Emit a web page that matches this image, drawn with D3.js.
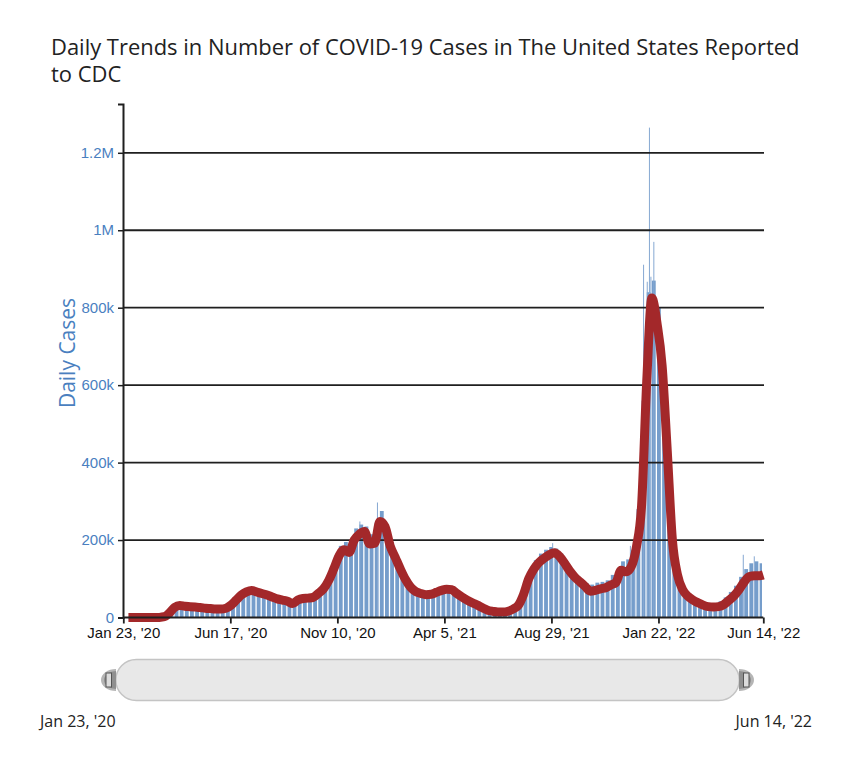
<!DOCTYPE html>
<html><head><meta charset="utf-8">
<script src="https://cdn.jsdelivr.net/npm/d3@7"></script>
<style>
html,body{margin:0;padding:0;background:#fff;}
svg{display:block;}
</style></head>
<body>
<svg id="chart" width="854" height="768"></svg>
<script>
// ---------- DATA ----------
const titleLines = ["Daily Trends in Number of COVID-19 Cases in The United States Reported", "to CDC"];
const yAxisLabel = "Daily Cases";
const firstWeek = "2020-01-23";
const lastDay = "2022-06-14";
const xTickDates = ["2020-01-23", "2020-06-17", "2020-11-10", "2021-04-05", "2021-08-29", "2022-01-22", "2022-06-14"];
const xTickLabels = ["Jan 23, '20", "Jun 17, '20", "Nov 10, '20", "Apr 5, '21", "Aug 29, '21", "Jan 22, '22", "Jun 14, '22"];
const yTickValues = [0, 200000, 400000, 600000, 800000, 1000000, 1200000];
const yTickLabels = ["0", "200k", "400k", "600k", "800k", "1M", "1.2M"];
const yMax = 1326000;

// weekly bars (typical weekday count, one per week starting firstWeek)
const weeklyBars = [
  0,0,0,0,0,0,0,800,6000,22000,
  33000,34000,32000,31000,30000,28000,27000,25000,25000,26000,
  30000,42000,56000,68000,74000,76000,72000,67000,62000,57000,
  53000,49000,45000,44000,52000,54000,56000,62000,74000,92000,
  120000,155000,185000,195000,200000,230000,240000,235000,215000,245000,
  275000,240000,195000,160000,125000,100000,80000,72000,68000,66000,
  70000,75000,80000,78000,72000,62000,54000,46000,38000,31000,
  24000,19000,17000,16000,18000,24000,34000,55000,90000,125000,
  148000,165000,175000,182000,178000,165000,145000,125000,110000,98000,
  88000,85000,90000,92000,96000,110000,118000,145000,150000,175000,
  280000,560000,840000,870000,800000,580000,300000,160000,100000,70000,
  55000,45000,38000,35000,34000,36000,42000,52000,66000,82000,
  105000,125000,140000,145000,140000
];
// 7-day average, one value per week start (null = no value)
const weeklyAvg = [
  null,0,0,0,0,0,0,300,2000,12000,
  26000,31000,29000,28000,27000,26000,24000,23000,22000,22000,
  24000,32000,45000,58000,66000,70000,66000,62000,58000,53000,
  48000,45000,42000,36000,45000,49000,50000,52000,62000,74000,
  95000,125000,158000,175000,168000,200000,215000,222000,190000,192000,
  248000,235000,185000,155000,125000,98000,78000,67000,62000,59000,
  60000,65000,70000,73000,72000,62000,53000,45000,38000,32000,
  25000,19000,16000,14000,14000,16000,22000,32000,60000,100000,
  125000,142000,153000,162000,167000,158000,140000,120000,104000,92000,
  80000,68000,70000,74000,77000,84000,90000,122000,118000,132000,
  183000,290000,610000,825000,760000,650000,430000,200000,110000,72000,
  55000,45000,38000,32000,28000,27000,28000,33000,44000,56000,
  72000,92000,106000,108000,108000
];
const lastAvg = 110000;

// individual daily spikes visible above the weekly bars
const spikeDates = ["2020-12-10","2021-01-03","2021-08-30","2021-12-14","2021-12-20","2022-01-01","2022-01-06","2022-01-09","2022-01-11","2022-01-15","2022-05-17","2022-06-01"];
const spikeValues = [248000,297000,192000,185000,190000,911000,867000,1265000,880000,970000,162000,158000];

// ---------- DRAW ----------
const parse = d3.timeParse("%Y-%m-%d");
const svg = d3.select("#chart");
const x = d3.scaleTime().domain([parse(firstWeek), parse(lastDay)]).range([123.3, 763.3]);
const y = d3.scaleLinear().domain([0, yMax]).range([617.5, 104]);
const start = parse(firstWeek);
const weekDate = i => d3.timeDay.offset(start, 7 * i);

// title (one text element per line)
const titleG = svg.append("g").attr("font-family", "'Open Sans', sans-serif").attr("fill", "#222");
const titleTexts = titleG.selectAll("text").data(titleLines).join("text")
  .attr("x", 51).attr("y", (d, i) => 54.5 + i * 27.5).attr("font-size", 20).text(d => d);
const tl = titleTexts.node().getComputedTextLength();
titleTexts.attr("font-size", 20 * 749 / tl);

// bars
const end = parse(lastDay);
svg.append("g").selectAll("rect").data(weeklyBars).join("rect")
  .attr("x", (d, i) => x(weekDate(i)))
  .attr("width", (d, i) => Math.max(0, x(d3.min([weekDate(i + 1), end])) - x(weekDate(i)) - 1.3))
  .attr("y", d => y(d))
  .attr("height", d => y(0) - y(d))
  .attr("fill", "#759dcb");

svg.append("g").selectAll("rect").data(spikeDates).join("rect")
  .attr("x", d => x(parse(d)))
  .attr("width", 1)
  .attr("y", (d, i) => y(spikeValues[i]))
  .attr("height", (d, i) => y(0) - y(spikeValues[i]))
  .attr("fill", "#86a8d2");

// gridlines
svg.append("g").selectAll("line").data(yTickValues.slice(1)).join("line")
  .attr("x1", 123).attr("x2", 764)
  .attr("y1", d => y(d)).attr("y2", d => y(d))
  .attr("stroke", "#1f1f1f").attr("stroke-width", 1.8);

// line
const linePts = weeklyAvg.map((v, i) => ({d: weekDate(i), v})).filter(p => p.v !== null && p.d < end);
linePts.push({d: end, v: lastAvg});
svg.append("path").datum(linePts)
  .attr("d", d3.line().x(p => x(p.d)).y(p => y(p.v)).curve(d3.curveMonotoneX))
  .attr("fill", "none").attr("stroke", "#a3282a").attr("stroke-width", 9)
  .attr("stroke-linejoin", "round");

// y axis
const yAxis = svg.append("g").attr("transform", "translate(123,0)")
  .call(d3.axisLeft(y).tickValues(yTickValues).tickFormat((d, i) => yTickLabels[i]).tickSize(5).tickPadding(4).tickSizeOuter(5));
yAxis.select(".domain").attr("stroke", "#1f1f1f").attr("stroke-width", 2);
yAxis.selectAll(".tick line").attr("stroke", "#1f1f1f").attr("stroke-width", 1.5);
yAxis.selectAll(".tick text").attr("font-family", "'Liberation Sans', Arial, sans-serif").attr("font-size", 15).attr("fill", "#4a7fbf")
  .attr("dy", "0.3em");

// x axis
const xAxis = svg.append("g").attr("transform", "translate(0,617.5)")
  .call(d3.axisBottom(x).tickValues(xTickDates.map(parse)).tickFormat((d, i) => xTickLabels[i]).tickSize(6).tickPadding(4).tickSizeOuter(0));
xAxis.select(".domain").attr("stroke", "#1f1f1f").attr("stroke-width", 2).attr("d", "M123,0H763.3");
xAxis.selectAll(".tick line").attr("stroke", "#1f1f1f").attr("stroke-width", 1.8);
xAxis.selectAll(".tick text").attr("font-family", "'Liberation Sans', Arial, sans-serif").attr("font-size", 15).attr("fill", "#111");

// y label
svg.append("text").attr("transform", "translate(75,353) rotate(-90)")
  .attr("text-anchor", "middle").attr("font-family", "'Open Sans', sans-serif")
  .attr("font-size", 21).attr("fill", "#4a7fbf").text(yAxisLabel);

// navigator
const nav = svg.append("g");
nav.append("rect").attr("x", x.range()[0] - 7.5).attr("y", 659.5).attr("width", 623.5).attr("height", 41)
  .attr("rx", 20.5).attr("fill", "#e8e8e8").attr("stroke", "#c4c4c4").attr("stroke-width", 1.5);
function handle(cx, dir) {
  const g = nav.append("g").attr("transform", `translate(${cx},680) scale(${dir},1)`);
  g.append("path").attr("d", "M0,-11 A15,11 0 0 0 0,11 Z").attr("fill", "#b5b5b5");
  g.append("path").attr("d", "M0,-9 A12,9 0 0 0 0,9 Z").attr("fill", "#8f8f8f");
  g.append("rect").attr("x", -10).attr("y", -7).attr("width", 5.5).attr("height", 14)
    .attr("fill", "#dcdcdc").attr("stroke", "#555").attr("stroke-width", 1);
}
handle(116, 1);
handle(739, -1);
nav.append("text").attr("x", 40).attr("y", 727).attr("font-family", "'Open Sans', sans-serif")
  .attr("font-size", 16).attr("fill", "#222").text(xTickLabels[0]);
nav.append("text").attr("x", 812).attr("y", 727).attr("text-anchor", "end").attr("font-family", "'Open Sans', sans-serif")
  .attr("font-size", 16).attr("fill", "#222").text(xTickLabels[xTickLabels.length - 1]);
</script>
</body></html>
